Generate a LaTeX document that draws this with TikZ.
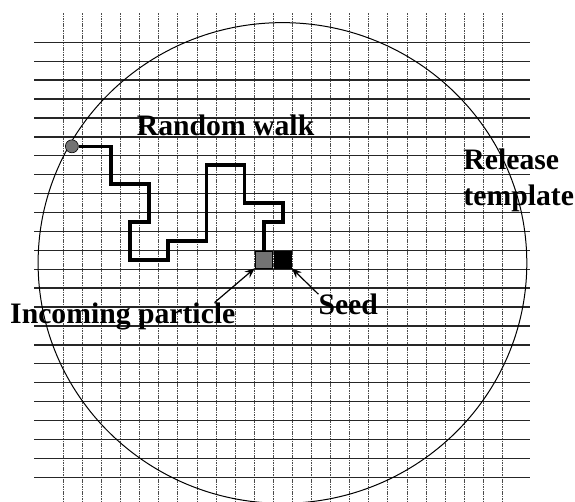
\documentclass[tikz,border=0pt]{standalone}
\usepackage{fontspec}
\setmainfont{Liberation Serif}
\usepackage{tikz}
\usetikzlibrary{arrows.meta}

\begin{document}
\begin{tikzpicture}[x=19.09pt, y=-18.91pt,
    vline/.style={black!70, line width=0.8pt, dash pattern=on 1.6pt off 0.8pt},
    hline/.style={black!85, line width=1.3pt},
    walk/.style={line width=3.6pt, line join=miter},
    cell/.style={draw=black, line width=0.5pt, minimum width=17.5pt, minimum height=16.5pt, inner sep=0pt},
    label/.style={font=\bfseries\fontsize{29.7}{36.7}\selectfont, inner sep=0pt},
    pointer/.style={-{Stealth[length=10pt, width=8pt, inset=3.5pt]}, line width=1.2pt}]
    \useasboundingbox (-3.316,-2.237) rectangle (26.805,24.310);

    % Griglia
    \foreach \i in {0,...,23}
        \draw[vline] (\i,-1.53) -- (\i,24.31);
    \foreach \j in {0,...,23}
        \draw[hline] (-1.52,\j) -- (24.46,\j);

    % Cerchio di rilascio
    \draw[line width=1pt] (11.48,11.67) ellipse [x radius=12.8, y radius=12.71];

    % Particelle
    \node[circle, draw=black, line width=0.6pt, fill=black!55, minimum size=13pt, inner sep=0pt] (start) at (0.45,5.5) {};
    \node[cell, fill=black!55] (incoming) at (10.5,11.5) {};
    \node[cell, fill=black] (seed) at (11.5,11.5) {};

    % Cammino casuale
    \draw[walk] (start) -- (2.5,5.5) -- (2.5,7.5) -- (4.5,7.5) -- (4.5,9.5)
        -- (3.5,9.5) -- (3.5,11.5) -- (5.5,11.5) -- (5.5,10.5) -- (7.5,10.5)
        -- (7.5,6.5) -- (9.5,6.5) -- (9.5,8.5) -- (11.5,8.5) -- (11.5,9.5)
        -- (10.5,9.5) -- (incoming);

    % Etichette
    \node[label, anchor=base west] (walklabel) at (3.845,4.902) {Random walk};
    \node[label, anchor=north west, align=left] (releaselabel) at (20.95,5.60) {Release\\template};
    \node[label, anchor=base west] (inclabel) at (-2.792,14.86) {Incoming particle};
    \node[label, anchor=base west] (seedlabel) at (13.36,14.42) {Seed};

    % Frecce
    \draw[pointer] ([xshift=-21pt]inclabel.north east) -- (incoming.south west);
    \draw[pointer] (seedlabel.north west) -- (seed.south east);
\end{tikzpicture}
\end{document}
